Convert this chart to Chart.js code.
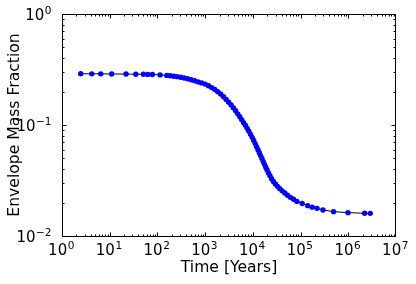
<!DOCTYPE html>
<html>
<head>
<meta charset="utf-8">
<script src="https://cdn.jsdelivr.net/npm/chart.js@4.4.1/dist/chart.umd.min.js"></script>
<style>
  html, body { margin: 0; padding: 0; background: #fff; }
  #wrap { width: 416px; height: 284px; }
</style>
</head>
<body>
<div id="wrap"><canvas id="myChart"></canvas></div>
<script>
// Data (waktu dalam tahun, fraksi massa envelope)
const timeYears = [
    2.47, 4.20, 6.49, 11.0, 22.0, 35.2, 50.8, 62.8, 78.3, 114, 157,
    184, 218, 259, 306, 363, 429, 508, 602, 713, 844,
    1000, 1172, 1368, 1590, 1837, 2113, 2419, 2756, 3110, 3509,
    3922, 4362, 4828, 5316, 5829, 6389, 6968, 7602, 8253, 8957,
    9678, 10400, 11190, 11970, 12800, 13640, 14520, 15460, 16460, 17530,
    18660, 19880, 21270, 22860, 24700, 26950, 29680, 32850, 36700, 41220,
    46730, 53230, 61250, 71130, 83820,
    108300, 141300, 175500, 221400, 294400, 491200, 984700, 2195000, 2892000
];
const envelopeFraction = [
    0.2892, 0.2890, 0.2888, 0.2882, 0.2876, 0.2870, 0.2864, 0.2858, 0.2852, 0.2828, 0.2799,
    0.2776, 0.2753, 0.2725, 0.2691, 0.2652, 0.2608, 0.2560, 0.2507, 0.2446, 0.2395,
    0.2336, 0.2255, 0.2172, 0.2088, 0.1995, 0.1902, 0.1798, 0.1700, 0.1604, 0.1514,
    0.1425, 0.1342, 0.1260, 0.1187, 0.1118, 0.1050, 0.0995, 0.0933, 0.0878, 0.0824,
    0.0774, 0.0727, 0.0680, 0.0638, 0.0599, 0.0563, 0.0530, 0.0499, 0.0470, 0.0442,
    0.0417, 0.0393, 0.0370, 0.0349, 0.0328, 0.0310, 0.0294, 0.0280, 0.0267, 0.0255,
    0.0244, 0.0233, 0.0223, 0.0214, 0.0205,
    0.01965, 0.01876, 0.01819, 0.01774, 0.01716, 0.01657, 0.01623, 0.01603, 0.01600
];

// Label tick: basis 10 dengan pangkat
const xTickValues = [1, 10, 100, 1e3, 1e4, 1e5, 1e6, 1e7];
const xTickExponents = ['0', '1', '2', '3', '4', '5', '6', '7'];
const yTickValues = [0.01, 0.1, 1];
const yTickExponents = ['\u22122', '\u22121', '0'];

const FONT = "'DejaVu Sans', sans-serif";
Chart.defaults.font.family = FONT;
Chart.defaults.color = '#000';

// Bingkai, tick ke dalam dan label pangkat seperti matplotlib
const frameAndTicks = {
    id: 'frameAndTicks',
    afterDraw(chart) {
        const { ctx, chartArea: a, scales } = chart;
        const L = Math.round(a.left) + 0.5;
        const R = Math.round(a.right) - 0.5;
        const T = Math.round(a.top) + 0.5;
        const B = Math.round(a.bottom) + 0.5;
        ctx.save();
        ctx.strokeStyle = '#000';
        ctx.lineWidth = 1;
        ctx.beginPath();
        for (let e = 0; e < 7; e++) {
            for (let k = 1; k <= 9; k++) {
                const px = Math.round(scales.x.getPixelForValue(k * Math.pow(10, e))) + 0.5;
                const len = k === 1 ? 4 : 2;
                ctx.moveTo(px, B); ctx.lineTo(px, B - len);
                ctx.moveTo(px, T); ctx.lineTo(px, T + len);
            }
        }
        for (let e = -2; e < 0; e++) {
            for (let k = 1; k <= 9; k++) {
                const py = Math.round(scales.y.getPixelForValue(k * Math.pow(10, e))) + 0.5;
                const len = k === 1 ? 4 : 2;
                ctx.moveTo(L, py); ctx.lineTo(L + len, py);
                ctx.moveTo(R, py); ctx.lineTo(R - len, py);
            }
        }
        ctx.stroke();
        ctx.strokeRect(L, T, R - L, B - T);

        // label tick
        ctx.fillStyle = '#000';
        ctx.textBaseline = 'alphabetic';
        ctx.textAlign = 'left';
        const baseFont = '15px ' + FONT;
        const expFont = '10.5px ' + FONT;
        xTickValues.forEach((v, i) => {
            const px = scales.x.getPixelForValue(v);
            ctx.font = baseFont;
            const w1 = ctx.measureText('10').width;
            ctx.font = expFont;
            const w2 = ctx.measureText(xTickExponents[i]).width;
            const x0 = px - (w1 + w2) / 2 - 1;
            ctx.font = baseFont;
            ctx.fillText('10', x0, a.bottom + 18.5);
            ctx.font = expFont;
            ctx.fillText(xTickExponents[i], x0 + w1 + 0.5, a.bottom + 12.5);
        });
        yTickValues.forEach((v, i) => {
            const py = scales.y.getPixelForValue(v);
            ctx.font = expFont;
            const w2 = ctx.measureText(yTickExponents[i]).width;
            const xr = a.left - 10.5;
            ctx.fillText(yTickExponents[i], xr - w2, py - 0.5);
            ctx.font = baseFont;
            const w1 = ctx.measureText('10').width;
            ctx.fillText('10', xr - w2 - w1 - 0.5, py + 5.5);
        });
        ctx.restore();
    }
};

const ctx = document.getElementById('myChart').getContext('2d');
const myChart = new Chart(ctx, {
    type: 'scatter',
    data: {
        datasets: [{
            data: timeYears.map((t, i) => ({ x: t, y: envelopeFraction[i] })),
            showLine: true,
            borderColor: '#000',
            borderWidth: 1,
            pointRadius: 2.7,
            pointBorderWidth: 0,
            pointBackgroundColor: '#0000ff',
            tension: 0
        }]
    },
    options: {
        responsive: true,
        maintainAspectRatio: false,
        animation: false,
        devicePixelRatio: 1,
        layout: { padding: { top: 14, right: 20, left: 0, bottom: 0 } },
        plugins: { legend: { display: false }, tooltip: { enabled: false } },
        scales: {
            x: {
                type: 'logarithmic',
                min: 1,
                max: 1e7,
                grid: { display: false },
                border: { display: false },
                ticks: { display: false },
                afterFit: s => { s.height = 48; s.paddingLeft = 0; s.paddingRight = 0; },
                title: {
                    display: true,
                    text: 'Time [Years]',
                    font: { size: 15.6 },
                    padding: { top: 0, bottom: 7 }
                }
            },
            y: {
                type: 'logarithmic',
                min: 0.01,
                max: 1,
                grid: { display: false },
                border: { display: false },
                ticks: { display: false },
                afterFit: s => { s.width = 62; s.paddingTop = 0; s.paddingBottom = 0; },
                title: {
                    display: true,
                    text: 'Envelope Mass Fraction',
                    font: { size: 15.6 },
                    padding: { top: 5.5, bottom: 0 }
                }
            }
        }
    },
    plugins: [frameAndTicks]
});
</script>
</body>
</html>
